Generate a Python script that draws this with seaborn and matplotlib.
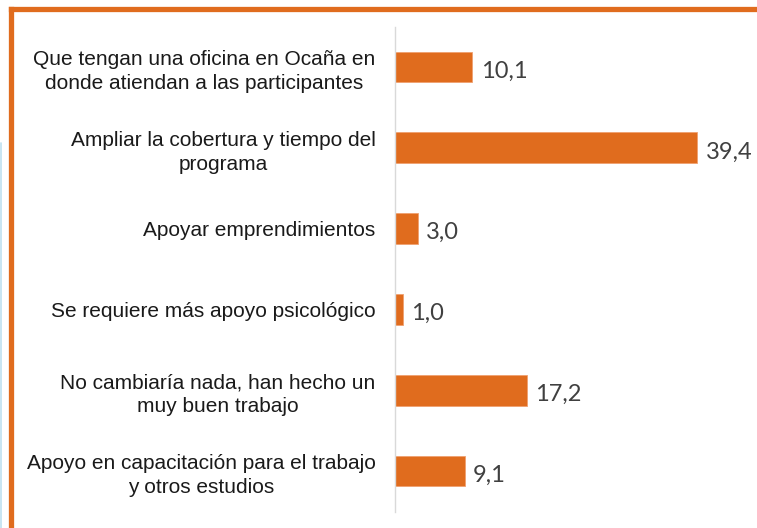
import matplotlib
matplotlib.use("Agg")
import matplotlib.pyplot as plt
import seaborn as sns
import pandas as pd
from matplotlib.lines import Line2D

categorias = [
    "Que tengan una oficina en Ocaña en\ndonde atiendan a las participantes",
    "Ampliar la cobertura y tiempo del\nprograma",
    "Apoyar emprendimientos",
    "Se requiere más apoyo psicológico",
    "No cambiaría nada, han hecho un\nmuy buen trabajo",
    "Apoyo en capacitación para el trabajo\ny otros estudios",
]
valores = [10.1, 39.4, 3.0, 1.0, 17.2, 9.1]
etiquetas = ["10,1", "39,4", "3,0", "1,0", "17,2", "9,1"]

df = pd.DataFrame({"categoria": categorias, "valor": valores})

sns.set_style("white")
plt.rcParams["font.family"] = ["Liberation Sans", "DejaVu Sans"]

naranja = "#E06C1E"

fig = plt.figure(figsize=(7.57, 5.28), dpi=100)
ax = fig.add_axes([395 / 757, 1 - 511.5 / 528, 1 - 395 / 757, 485 / 528])

sns.barplot(data=df, x="valor", y="categoria", color=naranja, width=0.38,
            saturation=1, ax=ax, edgecolor="#F0A070", linewidth=0.6)

ax.set_xlim(0, 47.2)
ax.set_xlabel("")
ax.set_ylabel("")
ax.set_xticks([])
ax.tick_params(axis="y", length=0, pad=14, labelsize=15, labelcolor="#1a1a1a")
for lbl in ax.get_yticklabels():
    lbl.set_multialignment("center")
    lbl.set_linespacing(1.35)

for s in ["top", "right", "bottom"]:
    ax.spines[s].set_visible(False)
ax.spines["left"].set_color("#D9D9D9")
ax.spines["left"].set_linewidth(1.0)

textos = ax.bar_label(ax.containers[0], labels=etiquetas, padding=6, fontsize=17,
                      color="#404040", family=["Lato", "DejaVu Sans"])
for t in textos:
    t.xyann = (t.xyann[0], -3)

# marco naranja (izquierda y arriba)
fig.add_artist(Line2D([10.5 / 757, 10.5 / 757], [0, 1 - 8.5 / 528],
                      color=naranja, lw=3.8, transform=fig.transFigure,
                      solid_capstyle="projecting"))
fig.add_artist(Line2D([10.5 / 757, 1], [1 - 8.5 / 528, 1 - 8.5 / 528],
                      color=naranja, lw=3.8, transform=fig.transFigure,
                      solid_capstyle="projecting"))
fig.add_artist(Line2D([0.5 / 757, 0.5 / 757], [0, 1 - 143 / 528],
                      color="#BFE0F0", lw=1.2, transform=fig.transFigure))

fig.savefig("out.png", dpi=100)
